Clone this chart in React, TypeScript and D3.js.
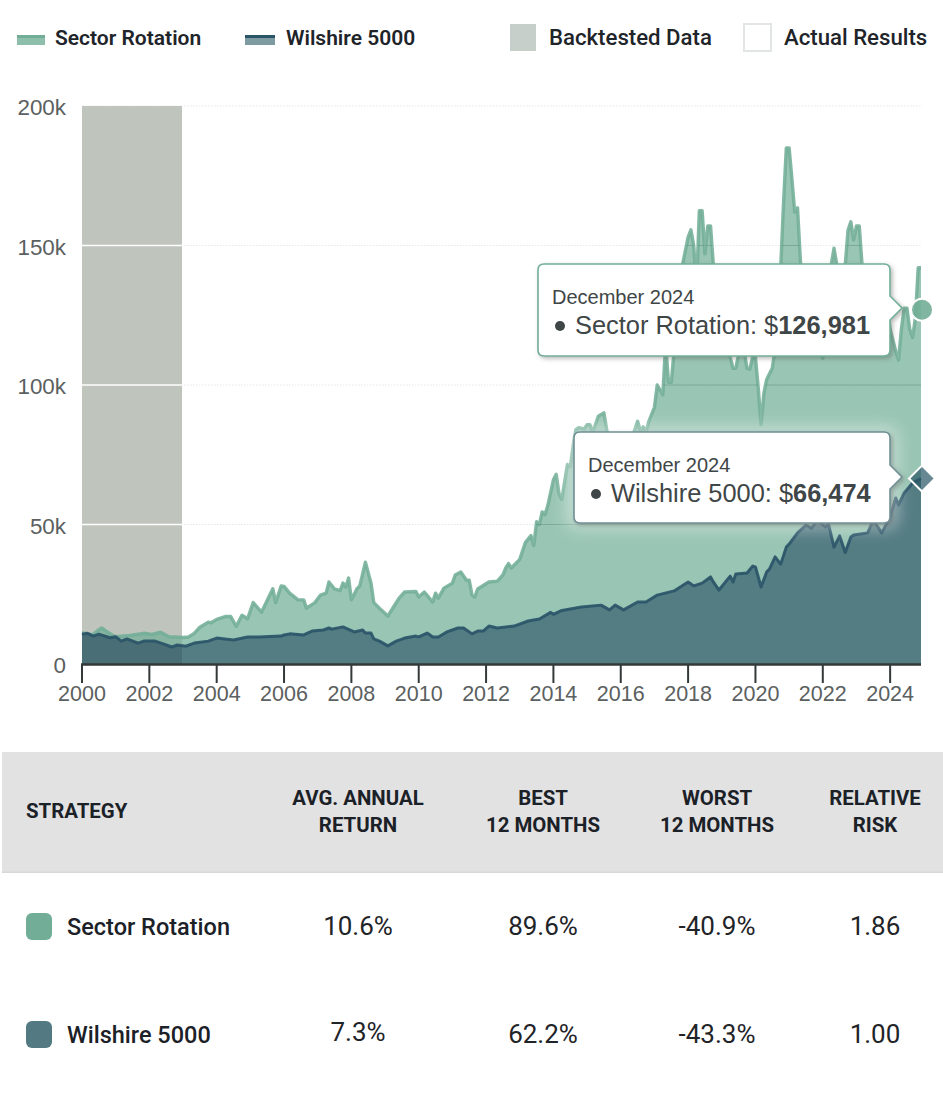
import React from "react";
import * as d3 from "d3";

const sectorMonths = [0,2,4,5,7,9,11,12,17,22,25,28,31,36,38,40,42,45,46,48,51,53,55,57,59,61,64,68,69,71,72,74,77,79,80,83,85,87,88,90,92,93,94,95,96,98,99,101,103,104,106,109,113,115,119,120,122,125,126,127,129,132,133,135,137,138,139,140,141,145,148,150,151,152,153,156,158,160,161,162,163,164,165,166,168,169,170,171,173,174,175,176,177,179,180,181,182,184,186,187,189,192,195,197,198,199,200,201,202,204,205,207,208,209,210,211,212,213,214,216,217,218,219,220,221,222,223,224,225,226,227,229,230,231,232,233,234,235,236,237,238,239,240,241,242,243,244,245,246,247,248,249,250,251,252,253,254,255,256,257,258,260,262,264,266,267,268,269,270,271,272,273,274,275,276,277,278,279,281,283,285,287,288,290,291,292,293,294,295,296,297,298,299];
const sectorValues = [11.2,10.8,10.5,11.5,12.9,11.5,10.2,9.8,10.2,11,10.6,11.4,9.8,9.5,9.7,11,13.2,15,14.8,16,17,17,13.5,17.5,16.2,22,18.6,27,22,28,27.8,25.4,23,23,20,22,24.7,25.4,29.4,26.9,26.3,29,27.6,30.8,23,27,28,36.5,29,22,20,17.2,23.6,25.8,26,24,25.8,22.2,25.4,23.6,27.2,29,31.9,33,30,30,24.7,24,26.9,29.4,29.7,31.9,34.4,36,34.4,37.5,43.5,46,42.5,51,50,54.5,53.5,56.8,66,68,61,59,71.5,70.7,78,84,84.7,84.3,85.8,85.8,83,88.8,90,84,75,72,78,84,87,83.5,85,83,87,92,100,96.5,115,101,101,112,118,125,143,153,155.6,150,135,162.5,162.5,147,157,157,143,125,115,112,112,110,106,106,111,116,112,106,105.7,110,110,99,85.7,97,102,104,106,113,125,142,165,185,185,174,162,163.5,145,125,115,118,114,109.5,118,143,149,143,125,125,143,155.5,158.5,152,157,157,143,128,115,120,127,128,120,112,109,120,127.5,127.5,120,117,124,142,142];
const wilshireMonths = [0,2,4,6,10,12,14,16,20,22,26,29,32,34,37,40,45,48,54,59,63,71,72,74,79,82,86,88,89,93,97,100,101,103,104,106,109,112,115,119,120,123,125,127,130,134,136,139,141,143,145,148,154,159,163,167,168,171,178,185,188,190,193,198,201,205,211,216,218,221,224,225,227,231,232,233,237,239,240,242,244,245,247,249,251,252,255,258,260,262,265,266,268,270,272,274,275,280,282,285,288,290,291,293,296,299];
const wilshireValues = [10.7,11,10,10.7,9.4,9.8,8.2,9,7.5,8.2,8.2,7.2,6.1,6.8,6.4,7.5,8.2,9.3,8.6,9.7,9.7,10,10.4,10.8,10.4,11.8,12.2,12.9,12.5,13.3,11.5,12.2,11.1,11.1,9,8.2,6.5,8.2,9.3,10,9.7,11.1,9.7,9.7,11.5,12.9,12.9,10.8,11.8,11.8,13.6,12.9,13.6,15.4,16.1,18.5,17.8,19.2,20.4,21.1,19.4,21.1,19.4,22.2,22.2,24.7,26.2,29.4,28,29,31.2,29.4,26.5,31.5,29.4,32.3,32.6,35.1,34.8,27.6,33,34,38.4,35.8,41.9,43,47,49.8,48.7,51.6,49.1,50.2,41.9,45.9,40,45.5,46.2,47,51.6,47,52.7,59.5,57,61.3,64.9,66.5];

const yTicks = [0, 50, 100, 150, 200];
const xTickYears = d3.range(2000, 2025, 2);
const backtestEndYear = 2002.97;
const tooltipDate = "December 2024";
const sectorLast = 126.981;
const wilshireLast = 66.474;

const tableHeaders = [["AVG. ANNUAL", "RETURN"], ["BEST", "12 MONTHS"], ["WORST", "12 MONTHS"], ["RELATIVE", "RISK"]];
const strategyNames = ["Sector Rotation", "Wilshire 5000"];
const sectorRow = ["10.6%", "89.6%", "-40.9%", "1.86"];
const wilshireRow = ["7.3%", "62.2%", "-43.3%", "1.00"];

const GREEN = "#72ae97";
const TEAL = "#537a82";
const NAVY = "#2a5468";
const SANS = "Liberation Sans, Arial, sans-serif";
const UI = "Roboto, sans-serif";

const x = d3.scaleLinear().domain([2000, 2000 + 299 / 12]).range([82, 921]);
const y = d3.scaleLinear().domain([0, 200]).range([664, 106]);
const mx = (m: number) => x(2000 + m / 12);

const zipData = (ms: number[], vs: number[]) => ms.map((m, i) => [m, vs[i]] as [number, number]);
const sectorData = zipData(sectorMonths, sectorValues);
const wilshireData = zipData(wilshireMonths, wilshireValues);
const line = d3.line<[number, number]>().x((d) => mx(d[0])).y((d) => y(d[1]));
const area = d3.area<[number, number]>().x((d) => mx(d[0])).y0(y(0)).y1((d) => y(d[1]));

const colX = [358, 543, 717, 875];

function Tooltip({ left, top, bottom, tipY, stroke, filter, name, value, textX }: any) {
  const r = 6;
  const right = 890;
  const d = `M${left + r},${top}H${right - r}Q${right},${top} ${right},${top + r}V${tipY - 12}L${right + 12},${tipY}L${right},${tipY + 12}V${bottom - r}Q${right},${bottom} ${right - r},${bottom}H${left + r}Q${left},${bottom} ${left},${bottom - r}V${top + r}Q${left},${top} ${left + r},${top}Z`;
  return (
    <g>
      <path d={d} fill="#fff" stroke={stroke} strokeWidth={1.6} filter={filter} />
      <text x={textX - 23} y={top + 40} fontFamily={SANS} fontSize={20} fill="#3f4647">{tooltipDate}</text>
      <circle cx={textX - 15} cy={top + 62} r={5} fill="#3f4647" />
      <text x={textX} y={top + 70} fontFamily={SANS} fontSize={25.4} fill="#3f4647">
        {name}: $<tspan fontWeight={700}>{d3.format(",")(Math.round(value * 1000))}</tspan>
      </text>
    </g>
  );
}

export default function App() {
  const legendLeft = { fontFamily: UI, fontSize: 21, fontWeight: 600, fill: "#1e2429" } as const;
  const legendRight = { fontFamily: UI, fontSize: 22.2, fontWeight: 500, fill: "#1e2429" } as const;
  const headerStyle = { fontFamily: UI, fontSize: 20.4, fontWeight: 700, fill: "#1b2127" } as const;
  const rows = [sectorRow, wilshireRow];
  return (
    <svg width={943} height={1099} style={{ position: "absolute", left: 0, top: 0, display: "block", background: "#fff" }}>
      <defs>
        <clipPath id="underSector"><path d={area(sectorData)!} /></clipPath>
        <clipPath id="underWilshire"><path d={area(wilshireData)!} /></clipPath>
        <filter id="shadow" x="-10%" y="-20%" width="125%" height="140%">
          <feDropShadow dx={2} dy={2} stdDeviation={2.2} floodColor="#555" floodOpacity={0.4} />
        </filter>
        <filter id="halo" x="-15%" y="-30%" width="130%" height="160%">
          <feGaussianBlur stdDeviation={8} />
        </filter>
      </defs>

      {/* legend */}
      <rect x={17} y={35} width={28} height={10} fill={GREEN} opacity={0.8} />
      <rect x={17} y={35} width={28} height={3} fill={GREEN} />
      <text x={55} y={45} {...legendLeft}>{strategyNames[0]}</text>
      <rect x={245} y={35} width={30} height={10} fill={TEAL} opacity={0.75} />
      <rect x={245} y={35} width={30} height={3} fill={NAVY} />
      <text x={286} y={45} {...legendLeft}>{strategyNames[1]}</text>
      <rect x={510} y={24} width={26} height={27} fill="#c6cfca" />
      <text x={549} y={45} {...legendRight}>Backtested Data</text>
      <rect x={744} y={24} width={27} height={27} fill="#fff" stroke="#e2e5e5" strokeWidth={2} />
      <text x={784} y={45} {...legendRight}>Actual Results</text>

      {/* grid */}
      {yTicks.slice(1).map((t) => (
        <line key={t} x1={82} x2={921} y1={y(t)} y2={y(t)} stroke="#e4e7e6" strokeWidth={1} strokeDasharray="1.5 1.5" />
      ))}
      <rect x={82} y={106} width={x(backtestEndYear) - 82} height={558} fill="#bfc4bd" />
      {yTicks.slice(1, 4).map((t) => (
        <line key={t} x1={82} x2={x(backtestEndYear)} y1={y(t)} y2={y(t)} stroke="#fff" strokeWidth={1.5} />
      ))}

      {/* series */}
      <path d={area(sectorData)!} fill={GREEN} fillOpacity={0.72} />
      <path d={line(sectorData)!} fill="none" stroke={GREEN} strokeWidth={3.4} strokeOpacity={0.88} strokeLinejoin="round" />
      <g clipPath="url(#underSector)">
        {yTicks.slice(1, 4).map((t) => (
          <line key={t} x1={x(backtestEndYear)} x2={921} y1={y(t)} y2={y(t)} stroke="#4f7d6b" strokeOpacity={0.35} strokeWidth={1.2} />
        ))}
      </g>
      <path d={area(wilshireData)!} fill={TEAL} fillOpacity={0.98} />
      <g clipPath="url(#underWilshire)">
        <rect x={82} y={y(20)} width={x(backtestEndYear) - 82} height={y(0) - y(20)} fill="#23404a" opacity={0.22} />
      </g>
      <path d={line(wilshireData)!} fill="none" stroke={NAVY} strokeWidth={3} strokeOpacity={0.92} strokeLinejoin="round" />

      {/* axes */}
      <line x1={81} x2={921} y1={664.5} y2={664.5} stroke="#333838" strokeWidth={2.4} />
      {xTickYears.map((t) => (
        <g key={t}>
          <line x1={x(t)} x2={x(t)} y1={664} y2={683} stroke="#333838" strokeWidth={2} />
          <text x={x(t)} y={701} textAnchor="middle" fontFamily={SANS} fontSize={21.5} fill="#5b6060">{t}</text>
        </g>
      ))}
      {yTicks.map((t) => (
        <text key={t} x={66} y={y(t) + 9} textAnchor="end" fontFamily={SANS} fontSize={22.4} fill="#5b6060">
          {t === 0 ? "0" : `${t}k`}
        </text>
      ))}

      {/* tooltips */}
      <rect x={566} y={426} width={332} height={103} rx={10} fill="#fff" opacity={0.42} filter="url(#halo)" />
      <Tooltip left={574} top={432} bottom={523} tipY={477} stroke="#6f8f94" filter="url(#shadow)" name={strategyNames[1]} value={wilshireLast} textX={611} />
      <Tooltip left={538} top={264} bottom={356} tipY={308} stroke={GREEN} filter="url(#shadow)" name={strategyNames[0]} value={sectorLast} textX={575} />

      {/* end markers */}
      <circle cx={922} cy={y(sectorLast)} r={11} fill={GREEN} fillOpacity={0.9} stroke="#fff" strokeWidth={2} />
      <path d={d3.symbol(d3.symbolDiamond2, 430)()!} transform={`translate(922,${y(wilshireLast)})`} fill="#2c5a68" fillOpacity={0.72} stroke="#fff" strokeWidth={2} />

      {/* table */}
      <rect x={2} y={752} width={941} height={121} fill="#e2e2e2" />
      <rect x={2} y={871.5} width={941} height={1.5} fill="#d8d8d8" />
      <text x={26} y={818} {...headerStyle}>STRATEGY</text>
      {tableHeaders.map((h, i) => (
        <g key={i} textAnchor="middle" {...headerStyle}>
          <text x={colX[i]} y={805}>{h[0]}</text>
          <text x={colX[i]} y={832}>{h[1]}</text>
        </g>
      ))}
      {rows.map((row, r) => {
        const base = r === 0 ? 935 : 1043;
        return (
          <g key={r}>
            <rect x={26} y={r === 0 ? 913 : 1021} width={26} height={27} rx={6} fill={r === 0 ? GREEN : TEAL} />
            <text x={67} y={base} fontFamily={UI} fontSize={23.5} fontWeight={500} fill="#1b2127">{strategyNames[r]}</text>
            {row.map((v, i) => (
              <text key={i} x={colX[i]} y={r === 1 && i === 0 ? base - 2 : base} textAnchor="middle" fontFamily={UI} fontSize={26} fill="#1f2428">{v}</text>
            ))}
          </g>
        );
      })}
    </svg>
  );
}
